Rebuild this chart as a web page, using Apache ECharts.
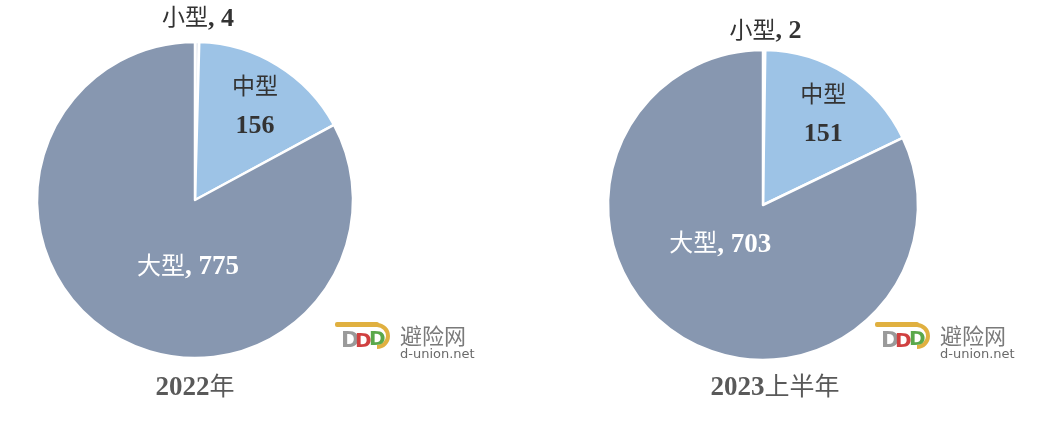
<!DOCTYPE html>
<html><head><meta charset="utf-8">
<script src="https://cdn.jsdelivr.net/npm/echarts@6/dist/echarts.min.js"></script>
<style>html,body{margin:0;padding:0;background:#fff}#c{width:1048px;height:437px}</style>
</head><body><div id="c"></div>
<script>
const categories = ['小型', '中型', '大型'];
const values2022 = [4, 156, 775];
const values2023H1 = [2, 151, 703];
const periodLabels = ['2022年', '2023上半年'];

const colors = ['#e4e9f0', '#9dc3e6', '#8797b0'];
const labelOffsets = [
  [[2, -99], [17, -23], [35, -3]],
  [[2, -93], [17, -22], [0, -28]]
];
const serif = '"Liberation Serif","Times New Roman","Noto Sans CJK SC",serif';

function makeData(vals) {
  return categories.map((c, i) => ({
    name: c, value: vals[i],
    itemStyle: { color: colors[i] },
    label: i === 1 ? {
      formatter: p => '{t|' + p.name + '}\n{n|' + p.value + '}'
    } : i === 0 ? {
      formatter: p => '{t|' + p.name + '}{n|, ' + p.value + '}'
    } : {
      formatter: p => '{tw|' + p.name + '}{nw|, ' + p.value + '}'
    }
  }));
}

const rich = {
  t: { fontFamily: serif, fontSize: 23, color: '#333333', lineHeight: 38 },
  n: { fontFamily: serif, fontSize: 26, fontWeight: 'bold', color: '#333333', lineHeight: 38 },
  tw: { fontFamily: serif, fontSize: 24, color: '#ffffff' },
  nw: { fontFamily: serif, fontSize: 27, fontWeight: 'bold', color: '#ffffff' }
};

function makeSeries(vals, center, radius, si) {
  return {
    type: 'pie', center: center, radius: radius, startAngle: 90, clockwise: true,
    animation: false, silent: true,
    itemStyle: { borderColor: '#ffffff', borderWidth: 2.5 },
    label: { show: true, position: 'inside', rich: rich, align: 'center' },
    labelLine: { show: false },
    labelLayout: p => ({ dx: labelOffsets[si][p.dataIndex][0], dy: labelOffsets[si][p.dataIndex][1] }),
    data: makeData(vals)
  };
}

function titleText(s) {
  const m = s.match(/^(\d+)(.*)$/);
  return '{d|' + m[1] + '}{c|' + m[2] + '}';
}
const titleRich = {
  d: { fontFamily: serif, fontSize: 27, fontWeight: 'bold', color: '#595959' },
  c: { fontFamily: serif, fontSize: 25, fontWeight: 'normal', color: '#595959' }
};

const chart = echarts.init(document.getElementById('c'), null, { renderer: 'canvas' });

function logo(x, y) {
  return {
    type: 'group', x: x, y: y, silent: true,
    children: [
      { type: 'rect', shape: { x: 2, y: 0, width: 44, height: 5, r: 2 }, style: { fill: '#e0b040' } },
      { type: 'arc', shape: { cx: 44, cy: 14, r: 11, startAngle: -Math.PI / 2, endAngle: Math.PI / 2 }, style: { stroke: '#e0b040', lineWidth: 4, fill: 'none' } },
      { type: 'text', x: 8, y: 8, style: { text: 'D', font: 'bold 22px "DejaVu Sans"', fill: '#9a9a9a' } },
      { type: 'text', x: 22, y: 10, style: { text: 'D', font: 'bold 20px "DejaVu Sans"', fill: '#d04040' } },
      { type: 'text', x: 36, y: 8, style: { text: 'D', font: 'bold 20px "DejaVu Sans"', fill: '#5aa84a' } },
      { type: 'text', x: 67, y: 3, style: { text: '避险网', font: '22px "Noto Sans CJK SC"', fill: '#7a7a7a' } },
      { type: 'text', x: 67, y: 26, style: { text: 'd-union.net', font: '13px "DejaVu Sans"', fill: '#6a6a6a' } }
    ]
  };
}

chart.setOption({
  backgroundColor: '#ffffff',
  title: [
    { text: titleText(periodLabels[0]), left: 190, top: 370, textAlign: 'center',
      textStyle: { rich: titleRich, fontWeight: 'normal' } },
    { text: titleText(periodLabels[1]), left: 770, top: 370, textAlign: 'center',
      textStyle: { rich: titleRich, fontWeight: 'normal' } }
  ],
  series: [
    makeSeries(values2022, [195, 200], 158, 0),
    makeSeries(values2023H1, [763, 205], 155, 1)
  ],
  graphic: [logo(333, 322), logo(873, 322)]
});
</script></body></html>
